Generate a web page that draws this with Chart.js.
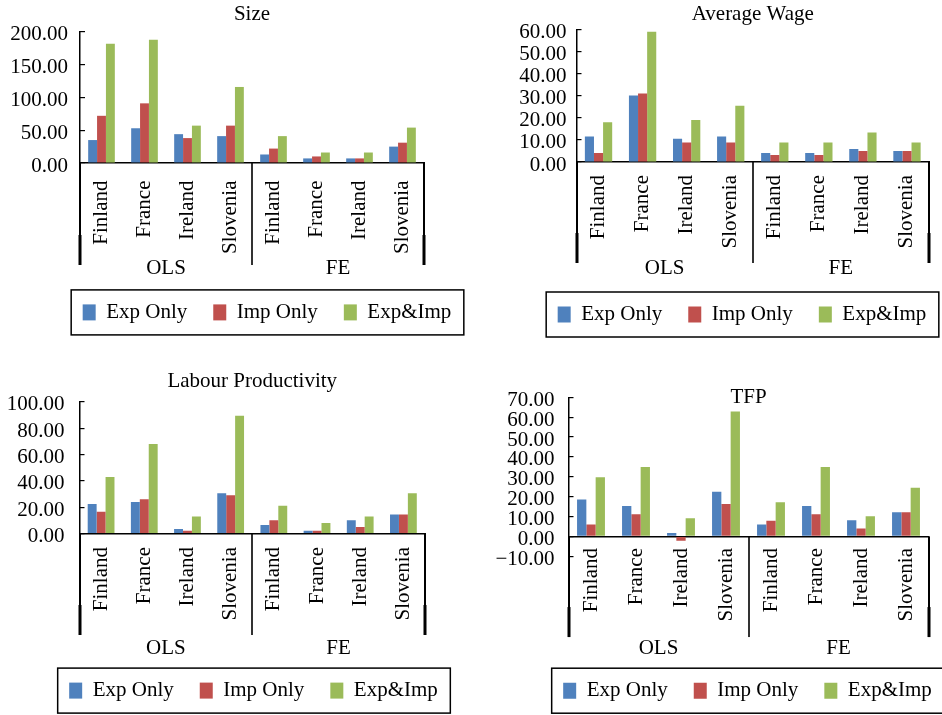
<!DOCTYPE html>
<html>
<head>
<meta charset="utf-8">
<script src="https://cdn.jsdelivr.net/npm/chart.js@4/dist/chart.umd.min.js"></script>
<style>
  html, body { margin: 0; padding: 0; background: #fff; }
  body { position: relative; width: 942px; height: 715px; overflow: hidden; }
  canvas { position: absolute; }
</style>
</head>
<body>
<canvas id="cSize" width="534" height="345" style="left:0px;top:0px"></canvas>
<canvas id="cWage" width="480" height="345" style="left:502px;top:0px"></canvas>
<canvas id="cLp" width="507" height="360" style="left:0px;top:355px"></canvas>
<canvas id="cTfp" width="515" height="355" style="left:490px;top:360px"></canvas>
<script>
// Categories: four countries under each estimator
const countries = ['Finland', 'France', 'Ireland', 'Slovenia', 'Finland', 'France', 'Ireland', 'Slovenia'];
const groups = ['OLS', 'FE'];
const seriesNames = ['Exp Only', 'Imp Only', 'Exp&Imp'];
const seriesColors = ['#4F81BD', '#C0504D', '#9BBB59'];

// Size premia
const sizeExp  = [35, 53, 44, 41, 13, 7, 7, 25];
const sizeImp  = [72, 91, 38, 57, 22, 10, 7, 31];
const sizeBoth = [182, 188, 57, 116, 41, 16, 16, 54];
const sizeTicks = [0, 50, 100, 150, 200];

// Average wage premia
const wageExp  = [11.6, 30.2, 10.6, 11.6, 4.1, 4.1, 5.9, 5.0];
const wageImp  = [4.1, 31.1, 8.8, 8.8, 3.2, 3.2, 5.0, 5.0];
const wageBoth = [18.0, 59.1, 19.0, 25.5, 8.8, 8.8, 13.4, 8.8];
const wageTicks = [0, 10, 20, 30, 40, 50, 60];

// Labour productivity premia
const lpExp  = [22.5, 24, 3.5, 30.5, 6.5, 2, 10, 14.5];
const lpImp  = [16.5, 26, 2, 29, 10, 2, 5, 14.5];
const lpBoth = [43, 68, 13, 89.5, 21, 8, 13, 30.5];
const lpTicks = [0, 20, 40, 60, 80, 100];

// TFP premia
const tfpExp  = [18.5, 15.3, 1.7, 22.5, 5.9, 15.3, 8.1, 12.1];
const tfpImp  = [5.9, 11.1, -2.2, 16.3, 7.9, 11.1, 3.9, 12.1];
const tfpBoth = [29.7, 34.9, 9.1, 62.9, 17.1, 34.9, 10.1, 24.5];
const tfpTicks = [-10, 0, 10, 20, 30, 40, 50, 60, 70];

const FONT = "'Liberation Serif', 'Times New Roman', serif";
Chart.defaults.font.family = FONT;
Chart.defaults.color = '#000';

function fmt(v) {
  const s = Math.abs(v).toFixed(2);
  return v < 0 ? '\u2212' + s : s;
}

// Frame drawn round the legend items
const legendFrame = {
  id: 'legendFrame',
  afterDraw(chart, args, opts) {
    const lg = chart.legend;
    if (!lg || !lg.legendHitBoxes || !lg.legendHitBoxes.length) return;
    const hb = lg.legendHitBoxes;
    const last = hb[hb.length - 1];
    const left = hb[0].left - opts.padLeft;
    const right = last.left + last.width + opts.padRight;
    const cy = hb[0].top + hb[0].height / 2;
    const ctx = chart.ctx;
    ctx.save();
    ctx.strokeStyle = '#000';
    ctx.lineWidth = 1.5;
    ctx.strokeRect(left, cy - opts.halfHeight, right - left, opts.halfHeight * 2);
    ctx.restore();
  }
};

// Vertical separators framing the OLS and FE groups below the axis
const groupDividers = {
  id: 'groupDividers',
  afterDraw(chart, args, opts) {
    const x = chart.scales.x, y = chart.scales.y;
    const top = y.getPixelForValue(0);
    const bottom = top + opts.length;
    const per = countries.length / groups.length;
    const xs = [];
    for (let g = 0; g <= groups.length; g++) {
      if (g === 0) xs.push(x.left);
      else if (g === groups.length) xs.push(x.right);
      else xs.push((x.getPixelForValue(g * per - 1) + x.getPixelForValue(g * per)) / 2);
    }
    const ctx = chart.ctx;
    ctx.save();
    ctx.fillStyle = '#000';
    xs.forEach((px, g) => {
      const sx = Math.round(px);
      const outer = (g === 0 || g === xs.length - 1);
      const w = outer ? 2 : 1.6;
      ctx.fillRect(sx - w / 2, top, w, bottom - top);
      if (outer) {
        ctx.fillRect(sx - 1.5, bottom - 30, 3, 30);
      }
    });
    ctx.restore();
  }
};

function makeChart(id, title, series, ticks, L) {
  const datasets = series.map((data, i) => ({
    label: seriesNames[i],
    data: data,
    backgroundColor: seriesColors[i],
    borderWidth: 0,
    categoryPercentage: 0.62,
    barPercentage: 1.0,
    xAxisID: 'x',
    yAxisID: 'y'
  }));

  const xScale = {
    type: 'category',
    position: L.xPosition || 'bottom',
    offset: true,
    grid: { display: true, drawOnChartArea: false, drawTicks: false, color: 'rgba(0,0,0,0)' },
    border: { display: true, color: '#000', width: 1.5 },
    ticks: {
      autoSkip: false, minRotation: 90, maxRotation: 90,
      padding: L.xLabelPad,
      font: { size: 21, family: FONT }, color: '#000'
    }
  };
  if (L.xHeight) xScale.afterFit = s => { s.height = L.xHeight; };

  return new Chart(document.getElementById(id), {
    type: 'bar',
    data: { labels: countries, datasets: datasets },
    plugins: [legendFrame, groupDividers],
    options: {
      responsive: false,
      animation: false,
      devicePixelRatio: 1,
      layout: { padding: { top: L.padTop, bottom: L.padBottom, left: 0, right: 0 } },
      scales: {
        x: xScale,
        x2: {
          type: 'category',
          labels: groups,
          position: 'bottom',
          offset: true,
          grid: { display: false, drawTicks: false, drawOnChartArea: false },
          border: { display: false },
          ticks: {
            autoSkip: false, maxRotation: 0, minRotation: 0,
            padding: L.groupPad,
            font: { size: 21, family: FONT }, color: '#000'
          },
          afterFit: s => { s.height = L.x2Height; }
        },
        y: {
          type: 'linear',
          position: 'left',
          min: ticks[0],
          max: ticks[ticks.length - 1],
          afterBuildTicks: s => { s.ticks = ticks.map(v => ({ value: v })); },
          grid: { display: true, drawOnChartArea: false, drawTicks: true, tickLength: -5, color: '#000', lineWidth: 1.2 },
          border: { display: true, color: '#000', width: 1.5 },
          ticks: {
            autoSkip: false,
            callback: v => fmt(v),
            padding: L.yPad,
            labelOffset: 3,
            font: { size: 21, family: FONT }, color: '#000'
          },
          afterFit: s => { s.width = L.yWidth; }
        },
        pad: {
          type: 'linear',
          position: 'right',
          display: true,
          grid: { display: false, drawTicks: false },
          border: { display: false },
          ticks: { display: false },
          afterFit: s => { s.width = L.rightPad; }
        }
      },
      plugins: {
        title: {
          display: true,
          text: title,
          fullSize: false,
          color: '#000',
          font: { size: 21, weight: 'normal', family: FONT },
          padding: L.titlePad
        },
        legend: {
          position: 'bottom',
          labels: {
            boxWidth: 13, boxHeight: 16, padding: 26,
            color: '#000',
            font: { size: 21, family: FONT }
          }
        },
        tooltip: { enabled: false },
        legendFrame: { padLeft: 11.5, padRight: 12.5, halfHeight: 22.5 },
        groupDividers: { length: L.divLen }
      }
    }
  });
}

makeChart('cSize', 'Size', [sizeExp, sizeImp, sizeBoth], sizeTicks, {
  padTop: 0, padBottom: 12.1, titlePad: { top: 1.4, bottom: 5.3 },
  yWidth: 80, rightPad: 110, xHeight: 90, x2Height: 22.9, divLen: 102,
  xLabelPad: 17.5, groupPad: 2.9, yPad: 17
});

makeChart('cWage', 'Average Wage', [wageExp, wageImp, wageBoth], wageTicks, {
  padTop: 0, padBottom: 10, titlePad: { top: 1.4, bottom: 3.1 },
  yWidth: 74.5, rightPad: 53, xHeight: 93, x2Height: 23, divLen: 101,
  xLabelPad: 13, groupPad: 0.4, yPad: 15
});

makeChart('cLp', 'Labour Productivity', [lpExp, lpImp, lpBoth], lpTicks, {
  padTop: 0, padBottom: 3.9, titlePad: { top: 14.1, bottom: 7.6 },
  yWidth: 79.5, rightPad: 82, xHeight: 101.5, x2Height: 19.1, divLen: 101.5,
  xLabelPad: 13.5, groupPad: 0.7, yPad: 20
});

makeChart('cTfp', 'TFP', [tfpExp, tfpImp, tfpBoth], tfpTicks, {
  padTop: 24.4, padBottom: 3.8, titlePad: { top: 0, bottom: -12.3 },
  yWidth: 78.5, rightPad: 76.5, x2Height: 98, xPosition: { y: 0 }, divLen: 100.7,
  xLabelPad: 11.7, groupPad: 79.2, yPad: 19
});
</script>
</body>
</html>
